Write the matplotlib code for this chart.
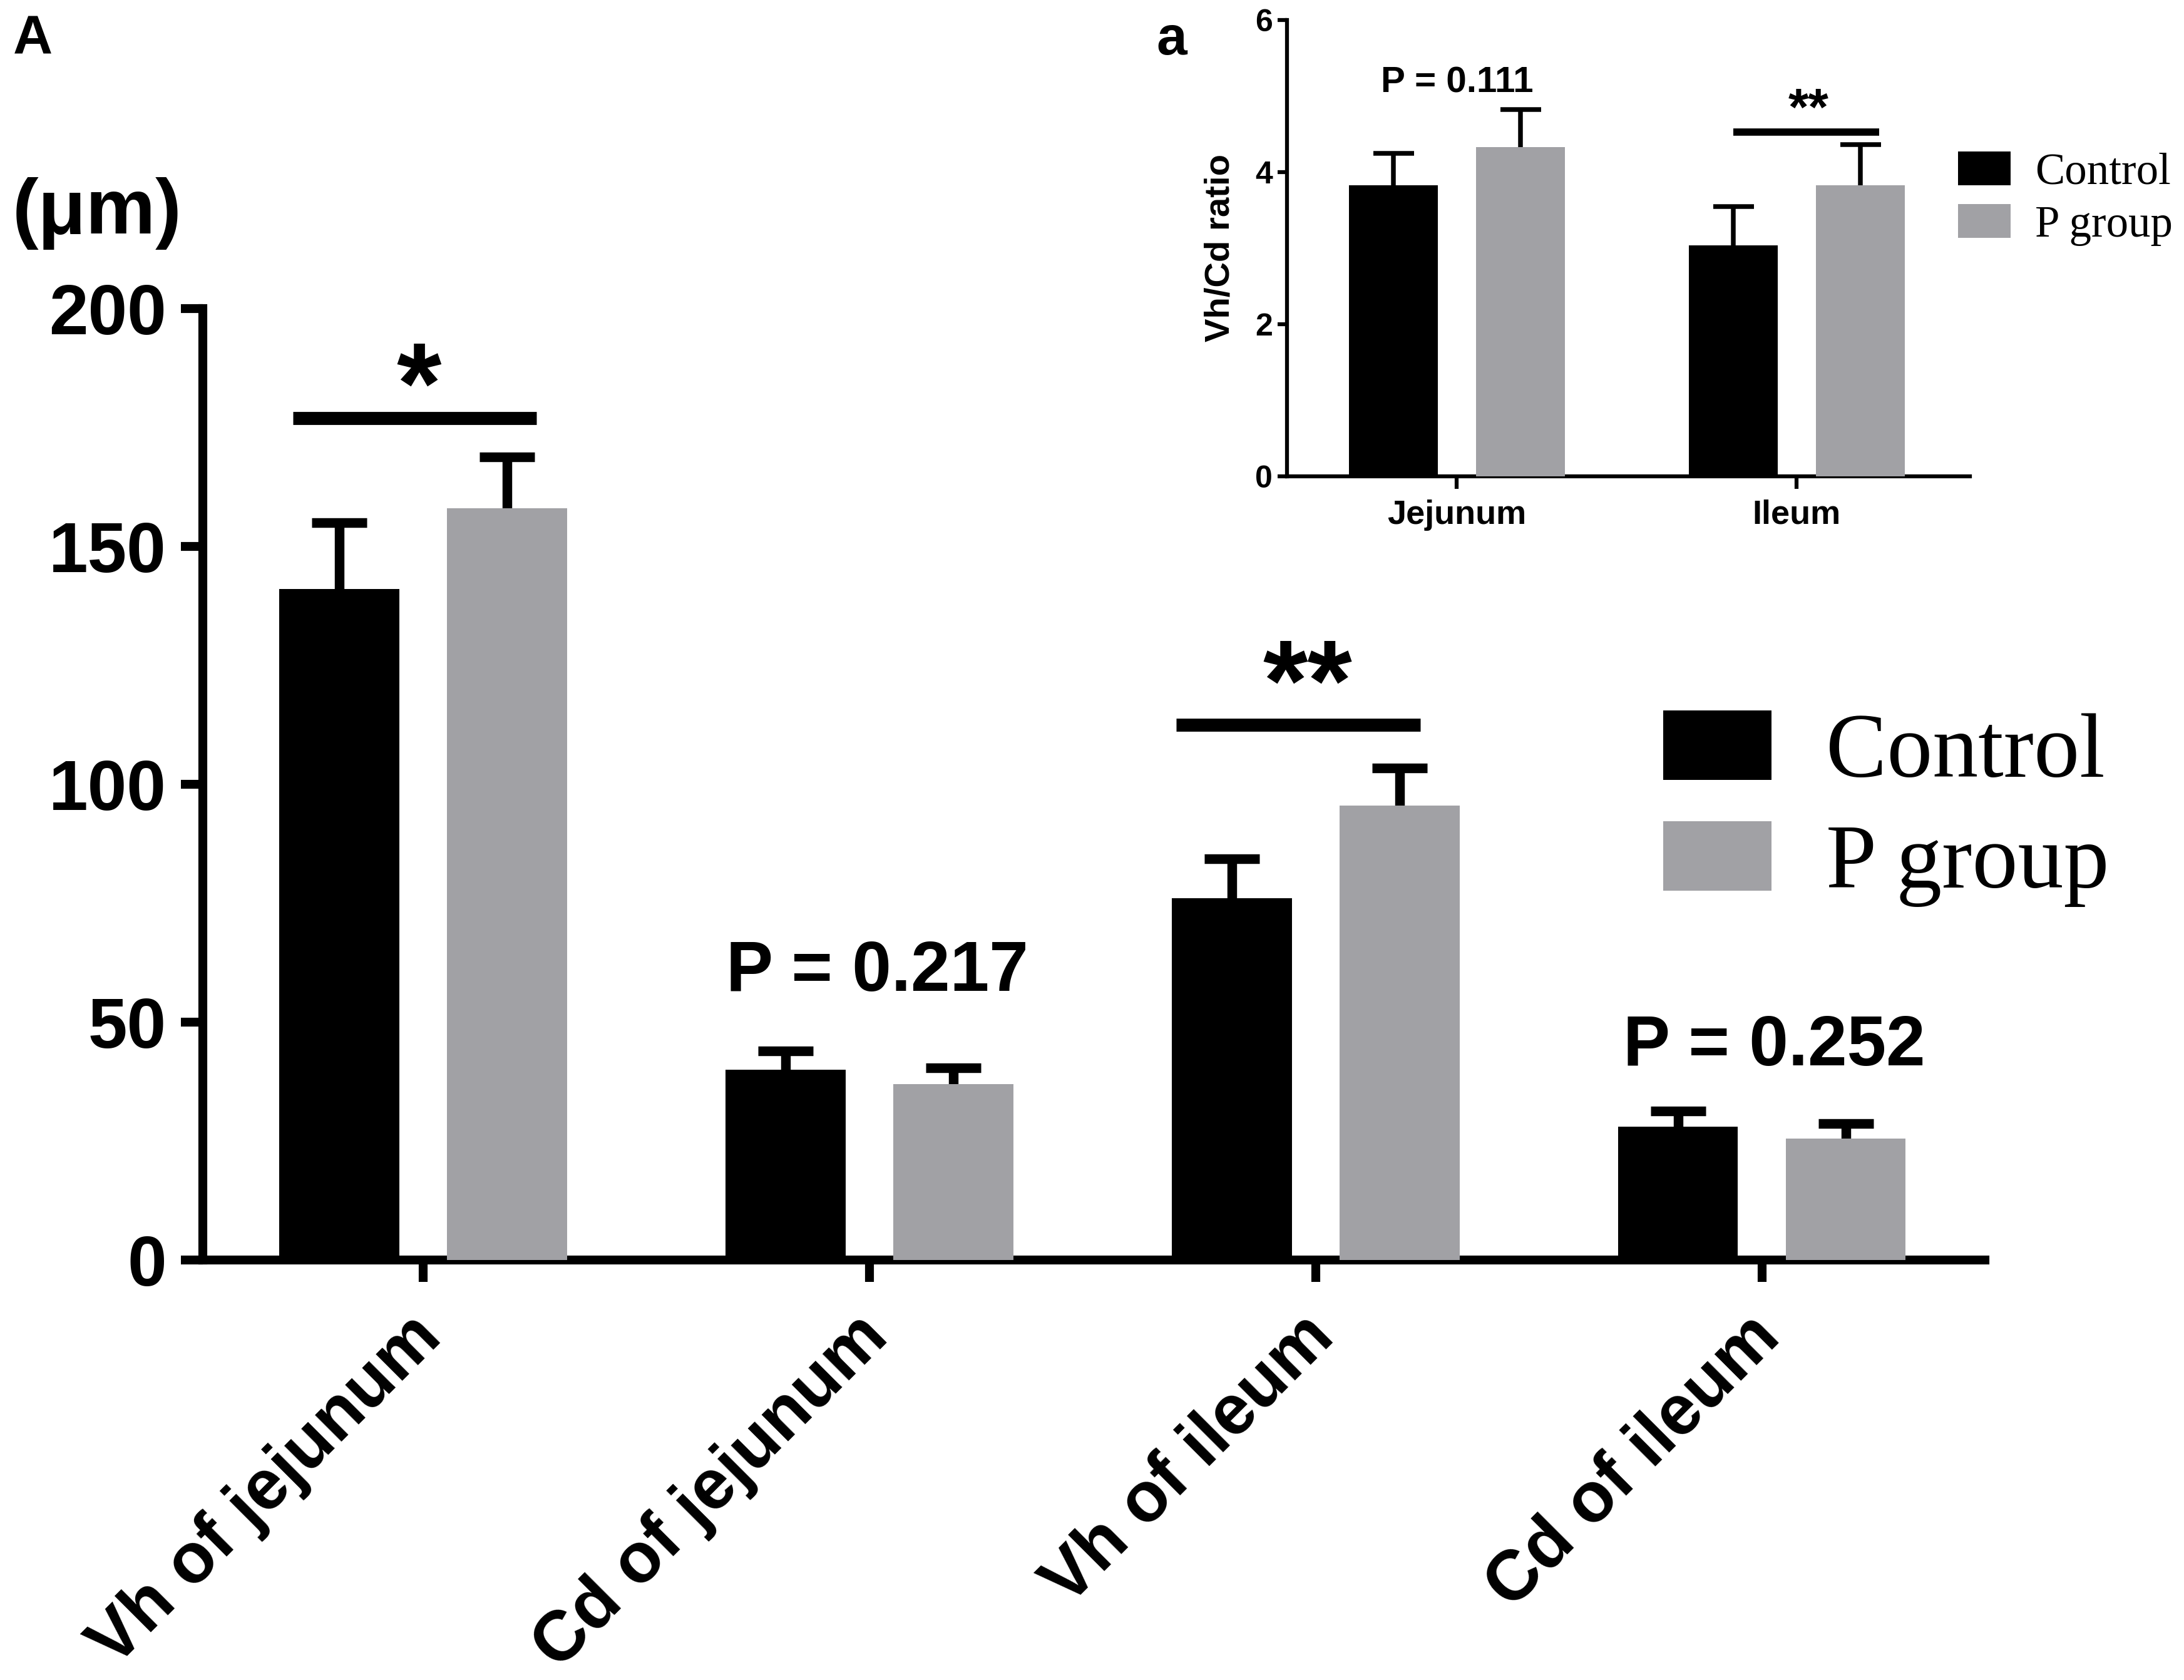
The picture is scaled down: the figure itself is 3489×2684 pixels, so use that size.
import numpy as np
import matplotlib
matplotlib.use('Agg')
import matplotlib.pyplot as plt
from matplotlib.font_manager import FontProperties
from matplotlib.transforms import ScaledTranslation

plt.rcParams['font.family'] = ['Liberation Sans', 'DejaVu Sans']
plt.rcParams['font.weight'] = 'bold'

# main panel: villus height (Vh) and crypt depth (Cd), um
categories = ['Vh of jejunum', 'Cd of jejunum', 'Vh of ileum', 'Cd of ileum']
control_mean = [141, 40, 76, 28]
control_err = [14, 4, 8.3, 3.3]
pgroup_mean = [158, 37, 95.5, 25.5]
pgroup_err = [10.8, 3.4, 7.9, 3.2]
y_ticks = [0, 50, 100, 150, 200]

# inset: Vh/Cd ratio
ratio_groups = ['Jejunum', 'Ileum']
ratio_control = [3.83, 3.04]
ratio_control_err = [0.42, 0.51]
ratio_pgroup = [4.33, 3.83]
ratio_pgroup_err = [0.49, 0.53]
ratio_ticks = [0, 2, 4, 6]

series_names = ['Control', 'P group']
gray = '#a1a1a5'

W, H = 3489, 2684
fig = plt.figure(figsize=(W / 300, H / 300), dpi=300)


def upper_errbar(axis, xs, means, errs, lw, cap):
    # one sided (upper) error bars like Prism draws them
    _, caps, _ = axis.errorbar(xs, means, yerr=[np.zeros(len(xs)), errs], fmt='none',
                               ecolor='black', elinewidth=lw, capsize=cap,
                               capthick=lw, zorder=2)
    for c in caps:
        if np.allclose(c.get_ydata(), means):
            c.set_visible(False)


# ---- main chart
ax = fig.add_axes([324 / W, 1 - 2013 / H, (3171 - 324) / W, (2013 - 493) / H])
x = np.arange(len(categories))
off, bw = 0.188, 0.269
b1 = ax.bar(x - off, control_mean, bw, color='black', zorder=3, label=series_names[0])
b2 = ax.bar(x + off, pgroup_mean, bw, color=gray, zorder=3, label=series_names[1])
upper_errbar(ax, x - off, control_mean, control_err, 3.7, 10.6)
upper_errbar(ax, x + off, pgroup_mean, pgroup_err, 3.7, 10.6)

ax.set_xlim(-0.494, 3.5)
ax.set_ylim(0, 200)
for s in ['top', 'right']:
    ax.spines[s].set_visible(False)
for s in ['left', 'bottom']:
    ax.spines[s].set_linewidth(3.4)
ax.set_yticks(y_ticks)
ax.set_xticks(x)
ax.set_xticklabels([])
ax.tick_params(axis='both', direction='out', length=8.5, width=3.4, labelsize=27)
ax.tick_params(axis='y', pad=5.5)

# slanted category labels, hung below the ticks
shift = ScaledTranslation(3 / 72, -25.5 / 72, fig.dpi_scale_trans)
for xc, name in zip(x, categories):
    ax.text(xc, 0, name, transform=ax.get_xaxis_transform() + shift,
            rotation=45, rotation_mode='anchor', ha='right', va='center',
            fontsize=27, fontweight='bold')

# significance marks
ax.plot([-0.292, 0.254], [177, 177], color='black', lw=5, solid_capstyle='butt')
ax.text(-0.01, 176, '*', ha='center', va='baseline', fontsize=44, fontweight='bold')
ax.plot([1.687, 2.234], [112.5, 112.5], color='black', lw=5, solid_capstyle='butt')
ax.text(1.982, 113.5, '**', ha='center', va='baseline', fontsize=44, fontweight='bold')
ax.text(1.018, 56.6, 'P = 0.217', ha='center', va='baseline', fontsize=27, fontweight='bold')
ax.text(3.028, 40.9, 'P = 0.252', ha='center', va='baseline', fontsize=27, fontweight='bold')

fig.text(20 / W, 1 - 373 / H, '(μm)', fontsize=30, fontweight='bold', ha='left', va='baseline')
fig.text(21 / W, 1 - 86 / H, 'A', fontsize=21, fontweight='bold', ha='left', va='baseline')
fig.text(1847 / W, 1 - 87 / H, 'a', fontsize=21, fontweight='bold', ha='left', va='baseline')

fig.legend([b1, b2], series_names, loc='upper left',
           bbox_to_anchor=(2657 / W, 1 - 1135 / H), bbox_transform=fig.transFigure,
           frameon=False, prop=FontProperties(family='Liberation Serif', size=35, weight='normal'),
           handlelength=1.185, handleheight=0.795, handletextpad=0.6,
           labelspacing=0.27, borderpad=0, borderaxespad=0)

# ---- inset
ia = fig.add_axes([2056 / W, 1 - 761 / H, (3147 - 2056) / W, (761 - 32) / H])
xi = np.arange(len(ratio_groups))
ioff, ibw = 0.187, 0.262
c1 = ia.bar(xi - ioff, ratio_control, ibw, color='black', zorder=3)
c2 = ia.bar(xi + ioff, ratio_pgroup, ibw, color=gray, zorder=3)
upper_errbar(ia, xi - ioff, ratio_control, ratio_control_err, 1.8, 7.8)
upper_errbar(ia, xi + ioff, ratio_pgroup, ratio_pgroup_err, 1.8, 7.8)
ia.set_xlim(-0.5, 1.51)
ia.set_ylim(0, 6)
for s in ['top', 'right']:
    ia.spines[s].set_visible(False)
for s in ['left', 'bottom']:
    ia.spines[s].set_linewidth(1.5)
ia.set_yticks(ratio_ticks)
ia.set_xticks(xi)
ia.set_xticklabels(ratio_groups, fontsize=13, fontweight='bold')
ia.tick_params(axis='x', length=4.8, width=1.5, pad=4)
ia.tick_params(axis='y', length=3.6, width=1.5, pad=2, labelsize=12)
ia.set_ylabel('Vh/Cd ratio', fontsize=13.5, fontweight='bold')
ia.yaxis.set_label_coords(-0.074, 0.5)

ia.plot([0.814, 1.243], [4.53, 4.53], color='black', lw=2.8, solid_capstyle='butt')
ia.text(1.035, 4.62, '**', ha='center', va='baseline', fontsize=20, fontweight='bold')
ia.text(0.0, 5.05, 'P = 0.111', ha='center', va='baseline', fontsize=14, fontweight='bold')

fig.legend([c1, c2], series_names, loc='upper left',
           bbox_to_anchor=(3128 / W, 1 - 242 / H), bbox_transform=fig.transFigure,
           frameon=False, prop=FontProperties(family='Liberation Serif', size=17, weight='normal'),
           handlelength=1.19, handleheight=0.79, handletextpad=0.55,
           labelspacing=0.25, borderpad=0, borderaxespad=0)

fig.savefig('out.png', dpi=300)
